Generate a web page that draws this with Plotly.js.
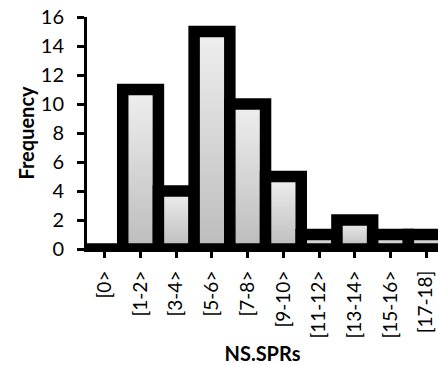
<!DOCTYPE html>
<html>
<head>
<meta charset="utf-8">
<script src="https://cdn.plot.ly/plotly-3.0.1.min.js"></script>
<style>
  html, body { margin: 0; padding: 0; background: #ffffff; }
  #chart { width: 438px; height: 365px; }
</style>
</head>
<body>
<div id="chart"></div>
<script>
const categories = ['[0>', '[1-2>', '[3-4>', '[5-6>', '[7-8>', '[9-10>', '[11-12>', '[13-14>', '[15-16>', '[17-18]'];
const frequency = [0, 11, 4, 15, 10, 5, 1, 2, 1, 1];
const yTicks = [0, 2, 4, 6, 8, 10, 12, 14, 16];

const FONT = 'Lato, "Liberation Sans", sans-serif';

const trace = {
  type: 'bar',
  x: categories,
  y: frequency,
  marker: {
    color: '#d6d6d6',
    line: { color: '#000000', width: 11.5 }
  },
  hoverinfo: 'skip'
};

const layout = {
  width: 438,
  height: 365,
  margin: { l: 87, r: 0, t: 17, b: 116, pad: 0 },
  paper_bgcolor: '#ffffff',
  plot_bgcolor: '#ffffff',
  showlegend: false,
  bargap: 0,
  font: { family: FONT, color: '#000000' },
  xaxis: {
    type: 'category',
    categoryorder: 'array',
    categoryarray: categories,
    range: [-0.5, 9.33],
    showline: true,
    linecolor: '#000000',
    linewidth: 3,
    ticks: 'outside',
    ticklen: 6,
    tickwidth: 3,
    tickcolor: '#000000',
    tickangle: -90,
    ticklabelstandoff: 5,
    tickfont: { family: FONT, size: 19, color: '#000000' },
    showgrid: false,
    zeroline: false,
    fixedrange: true,
    automargin: false,
    title: { text: '<b>NS.SPRs</b>', font: { family: FONT, size: 20, color: '#000000' }, standoff: 16 }
  },
  yaxis: {
    range: [0, 16],
    tickvals: yTicks,
    ticktext: yTicks.map(String),
    showline: true,
    linecolor: '#000000',
    linewidth: 3,
    ticks: 'outside',
    ticklen: 7,
    tickwidth: 3,
    tickcolor: '#000000',
    ticklabelstandoff: 9,
    tickfont: { family: FONT, size: 20, color: '#000000' },
    showgrid: false,
    zeroline: false,
    fixedrange: true,
    automargin: false,
    title: { text: '<b>Frequency</b>', font: { family: FONT, size: 20, color: '#000000' }, standoff: 1 }
  }
};

Plotly.newPlot('chart', [trace], layout, { displayModeBar: false, staticPlot: true }).then(function (gd) {
  const svgNS = 'http://www.w3.org/2000/svg';
  const svg = gd.querySelector('svg.main-svg');
  let defs = svg.querySelector('defs');
  if (!defs) { defs = document.createElementNS(svgNS, 'defs'); svg.insertBefore(defs, svg.firstChild); }
  const grad = document.createElementNS(svgNS, 'linearGradient');
  grad.setAttribute('id', 'barGrad');
  grad.setAttribute('x1', '0'); grad.setAttribute('y1', '0');
  grad.setAttribute('x2', '0'); grad.setAttribute('y2', '1');
  [['0', '#efefef'], ['1', '#bcbcbc']].forEach(function (s) {
    const st = document.createElementNS(svgNS, 'stop');
    st.setAttribute('offset', s[0]);
    st.setAttribute('stop-color', s[1]);
    grad.appendChild(st);
  });
  defs.appendChild(grad);
  gd.querySelectorAll('.barlayer .point path').forEach(function (p) {
    p.style.fill = 'url(#barGrad)';
  });
});
</script>
</body>
</html>
